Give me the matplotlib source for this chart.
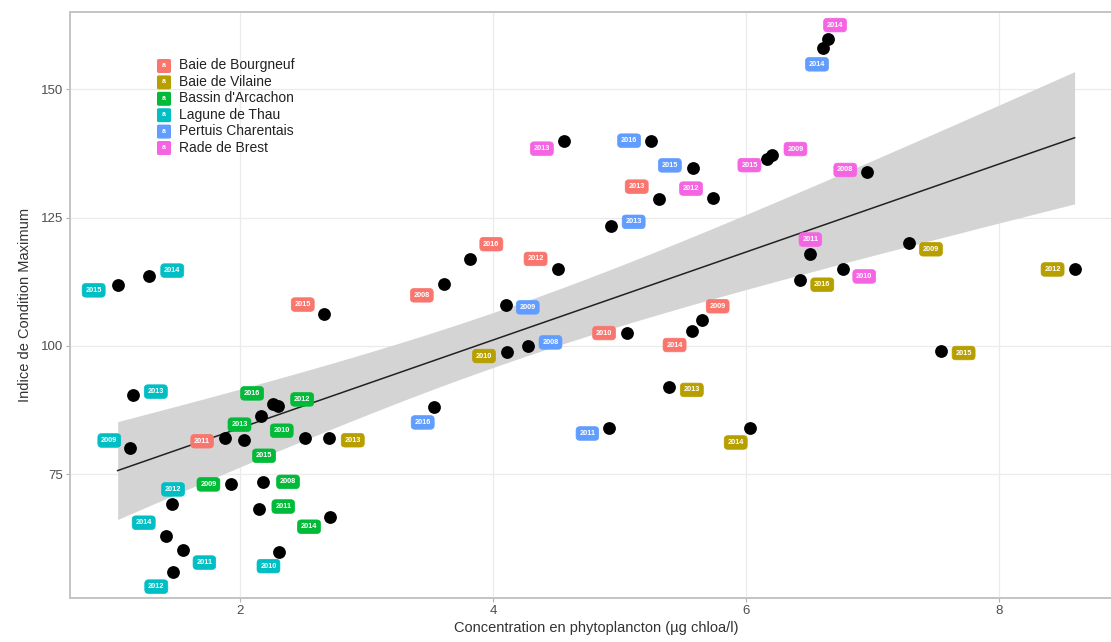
import matplotlib.pyplot as plt
from matplotlib.patches import FancyBboxPatch
import numpy as np

plt.rcParams['font.family'] = ['Liberation Sans', 'DejaVu Sans']

W, H = 1111, 642

sites = ['Baie de Bourgneuf', 'Baie de Vilaine', "Bassin d'Arcachon",
         'Lagune de Thau', 'Pertuis Charentais', 'Rade de Brest']
colors = ['#F8766D', '#B79F00', '#00BA38', '#00BFC4', '#619CFF', '#F564E3']

# chlorophyll a (ug/l) and maximum condition index, one entry per year
bourgneuf_chl = [2.66, 1.88, 3.82, 4.51, 3.61, 5.65, 5.06, 5.57, 5.31]
bourgneuf_icm = [106.3, 82.0, 116.9, 115.0, 112.0, 105.0, 102.5, 102.9, 128.7]
bourgneuf_year = [2015, 2011, 2016, 2012, 2008, 2009, 2010, 2014, 2013]

vilaine_chl = [2.70, 4.11, 5.39, 6.03, 7.29, 6.43, 8.60, 7.54]
vilaine_icm = [82.0, 98.8, 92.0, 83.9, 120.0, 112.9, 114.9, 99.0]
vilaine_year = [2013, 2010, 2013, 2014, 2009, 2016, 2012, 2015]

arcachon_chl = [2.26, 2.30, 2.16, 2.51, 2.03, 1.93, 2.18, 2.15, 2.71]
arcachon_icm = [88.6, 88.2, 86.4, 82.1, 81.7, 73.0, 73.5, 68.3, 66.7]
arcachon_year = [2016, 2012, 2013, 2010, 2015, 2009, 2008, 2011, 2014]

thau_chl = [1.03, 1.28, 1.15, 1.13, 1.46, 1.41, 1.55, 2.31, 1.47]
thau_icm = [111.8, 113.7, 90.5, 80.0, 69.1, 63.0, 60.3, 59.8, 56.0]
thau_year = [2015, 2014, 2013, 2009, 2012, 2014, 2011, 2010, 2012]

charentais_chl = [4.93, 4.10, 4.28, 3.53, 4.92, 5.25, 5.58, 6.61]
charentais_icm = [123.4, 107.9, 99.9, 88.0, 83.9, 140.0, 134.6, 158.0]
charentais_year = [2013, 2009, 2008, 2016, 2011, 2016, 2015, 2014]

brest_chl = [4.56, 5.74, 6.65, 6.17, 6.21, 6.96, 6.51, 6.77]
brest_icm = [140.0, 128.9, 159.8, 136.4, 137.2, 133.9, 118.0, 114.9]
brest_year = [2013, 2012, 2014, 2015, 2009, 2008, 2011, 2010]

chl = [bourgneuf_chl, vilaine_chl, arcachon_chl, thau_chl, charentais_chl, brest_chl]
icm = [bourgneuf_icm, vilaine_icm, arcachon_icm, thau_icm, charentais_icm, brest_icm]
years = [bourgneuf_year, vilaine_year, arcachon_year, thau_year, charentais_year, brest_year]

# label placement (pixel offsets from each point, repel-style)
offsets = [
    [(-21, 9), (-23, -3), (21, 15), (-22, 10), (-22, -11), (16, 14), (-23, 0), (-17, -14), (-22, 12)],
    [(24, -2), (-23, -4), (23, -3), (-14, -14), (22, -6), (22, -5), (-22, 0), (23, -2)],
    [(-21, 11), (24, 7), (-21, -9), (-23, 7), (20, -16), (-23, 0), (25, 0), (24, 2), (-21, -10)],
    [(-24, -5), (23, 5), (23, 3), (-21, 8), (1, 15), (-22, 13), (21, -13), (-11, -14), (-17, -15)],
    [(23, 4), (22, -2), (22, 4), (-11, -15), (-22, -5), (-22, 0), (-23, 3), (-6, -16)],
    [(-22, -8), (-22, 9), (7, 14), (-18, -6), (23, 6), (-22, 2), (0, 14), (21, -7)],
]

fig = plt.figure(figsize=(W / 100, H / 100), dpi=100)
ax = fig.add_axes([70 / W, 1 - 598.3 / H, 1053 / W, 585.9 / H])

# linear fit with 95% confidence band
x_all = np.concatenate([np.array(c) for c in chl])
y_all = np.concatenate([np.array(v) for v in icm])
n = len(x_all)
b, a = np.polyfit(x_all, y_all, 1)
xs = np.linspace(x_all.min(), x_all.max(), 200)
fit = a + b * xs
resid = y_all - (a + b * x_all)
s = np.sqrt(np.sum(resid ** 2) / (n - 2))
xm = x_all.mean()
sxx = np.sum((x_all - xm) ** 2)
se = s * np.sqrt(1.0 / n + (xs - xm) ** 2 / sxx)
t = 2.01
ax.fill_between(xs, fit - t * se, fit + t * se, color='#D4D4D4', lw=0, zorder=1)
ax.plot(xs, fit, color='#222222', lw=1.1, zorder=2)

ax.scatter(x_all, y_all, s=85, color='black', zorder=3, linewidths=0)

for i in range(len(sites)):
    for j in range(len(chl[i])):
        ax.annotate(str(years[i][j]), (chl[i][j], icm[i][j]),
                    xytext=offsets[i][j], textcoords='offset pixels',
                    ha='center', va='center', fontsize=5.3, color='white',
                    fontweight='bold', zorder=4,
                    bbox=dict(boxstyle='round,pad=0.45,rounding_size=0.5',
                              fc=colors[i], ec=colors[i], lw=0.5))

ax.set_xlim(0.653, 8.983)
ax.set_ylim(50.8, 165.0)
ax.set_xticks([2, 4, 6, 8])
ax.set_yticks([75, 100, 125, 150])
ax.grid(True, color='#EBEBEB', lw=0.9)
ax.set_axisbelow(True)
for sp in ax.spines.values():
    sp.set_color('#C4C4C4')
    sp.set_linewidth(1.4)
ax.tick_params(length=3, width=0.8, color='#B3B3B3', labelcolor='#4D4D4D', labelsize=9.5, pad=2)
ax.set_xlabel('Concentration en phytoplancton (µg chloa/l)', fontsize=10.5, color='#333333', labelpad=3)
ax.set_ylabel('Indice de Condition Maximum', fontsize=10.5, color='#333333', labelpad=6)

# legend
for i, name in enumerate(sites):
    top = 58 + 16.4 * i
    fig.add_artist(FancyBboxPatch((157 / W, 1 - (top + 15) / H), 14 / W, 14 / H,
                                  boxstyle='round,pad=0,rounding_size=0.002',
                                  transform=fig.transFigure, fc=colors[i], ec='none'))
    fig.text(164 / W, 1 - (top + 7.5) / H, 'a', color='white', fontsize=5,
             fontweight='bold', ha='center', va='center')
    fig.text(179 / W, 1 - (top + 7.5) / H, name, color='#222222', fontsize=10,
             ha='left', va='center')

fig.savefig('out.png', dpi=100)
